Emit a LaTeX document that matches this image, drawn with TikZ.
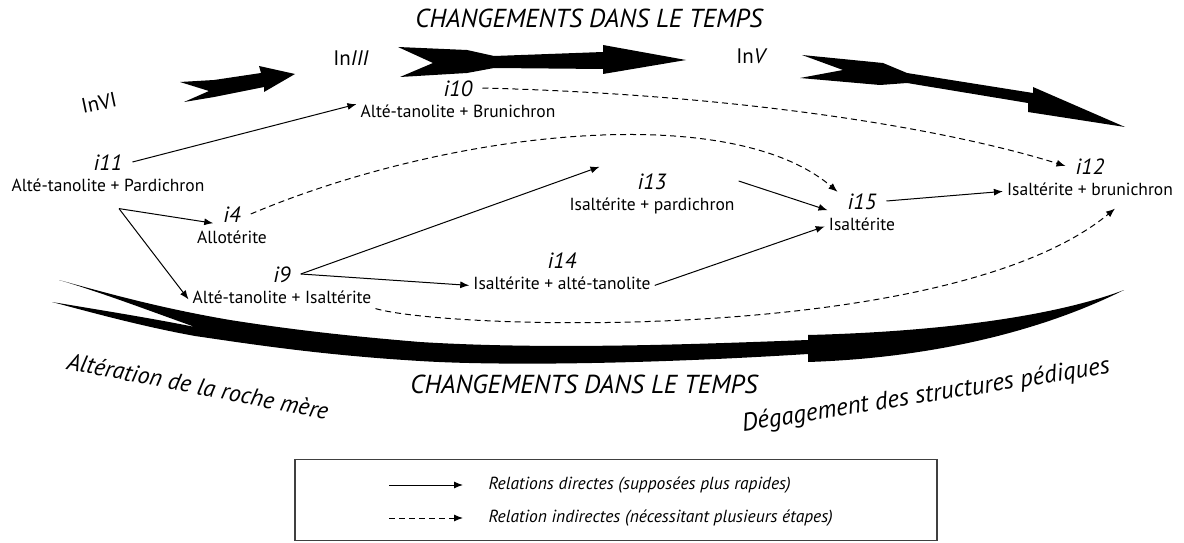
\documentclass[tikz,border=0pt]{standalone}
\usepackage{fontspec}
\setmainfont{PT Sans}
\usetikzlibrary{
  arrows.meta,
  positioning,
  calc
}

\begin{document}
\begin{tikzpicture}[
  x=1pt, y=-1pt,
  idlab/.style={font=\fontsize{22}{24}\selectfont\itshape, inner xsep=10pt,
    inner ysep=1pt, text height=16pt, text depth=0pt},
  desc/.style={font=\fontsize{17.5}{19}\selectfont, inner xsep=4pt,
    inner ysep=1pt, text height=12pt, text depth=4pt},
  phase/.style={font=\fontsize{21}{24}\selectfont},
  titre/.style={font=\fontsize{26}{30}\selectfont\itshape},
  legtext/.style={font=\fontsize{17.5}{19}\selectfont\itshape, anchor=west},
  band/.style={fill=black},
  link/.style={-{Latex[length=9pt, width=7pt]}, line width=1pt},
  indirect/.style={link, dash pattern=on 6pt off 4pt}
]
  \useasboundingbox (0,0) rectangle (1184,543);

  % time axis, top
  \node[titre] (ttop) at (589,18) {CHANGEMENTS DANS LE TEMPS};
  \node[phase, rotate=12] (invi) at (99,103) {InVI};
  \node[phase] (iniii) at (351,58) {In\textit{III}};
  \node[phase] (inv) at (752,56) {In\textit{V}};

  \fill[band] (180,82) -- (214,80) -- (261,73) -- (259,66) -- (295,74)
    -- (264,92) -- (264,87) -- (214,97) -- (184,102) -- (209,91) -- cycle;
  \fill[band] (398,47) -- (467,50) -- (494,56) -- (603,52) -- (603,45)
    -- (686,60) -- (603,74) -- (603,69) -- (494,68) -- (467,73) -- (400,77)
    -- (433,63) -- cycle;
  \fill[band] (802,55) -- (883,63) -- (907,73) -- (1033,93) -- (1033,87)
    -- (1125,127) -- (1028,112) -- (1028,103) -- (907,83) -- (880,85)
    -- (800,78) -- (843,70) -- cycle;

  % time axis, bottom
  \fill[band] (195,327) .. controls (150,311) and (100,292) .. (59,280)
    .. controls (110,294) and (160,308) .. (230,320)
    .. controls (300,331) and (360,337) .. (420,342)
    .. controls (550,350) and (700,344) .. (808,340)
    -- (808,335)
    .. controls (930,332) and (1050,318) .. (1124,290)
    .. controls (1040,332) and (930,358) .. (808,362)
    -- (808,354)
    .. controls (650,364) and (500,366) .. (420,361)
    .. controls (320,355) and (250,344) .. (195,336)
    .. controls (140,326) and (90,312) .. (52,302)
    .. controls (100,310) and (150,318) .. (195,327) -- cycle;
  \node[titre] (tbot) at (584,384) {CHANGEMENTS DANS LE TEMPS};
  \node[titre, font=\fontsize{24}{28}\selectfont\itshape, rotate=-11] (roche)
    at (198,386) {Altération de la roche mère};
  \node[titre, font=\fontsize{25}{28}\selectfont\itshape, rotate=9] (pedo)
    at (926,396) {Dégagement des structures pédiques};

  % horizons
  \node[idlab] (i11) at (108,162) {i11};
  \node[desc, below=7pt of i11] (i11d) {Alté-tanolite + Pardichron};
  \node[idlab] (i10) at (458,88) {i10};
  \node[desc, below=7pt of i10] (i10d) {Alté-tanolite + Brunichron};
  \node[idlab] (i4) at (232,214) {i4};
  \node[desc, below=7pt of i4] (i4d) {Allotérite};
  \node[idlab] (i9) at (282,274) {i9};
  \node[desc, below=7pt of i9] (i9d) {Alté-tanolite + Isaltérite};
  \node[idlab] (i13) at (652,181) {i13};
  \node[desc, below=7pt of i13] (i13d) {Isaltérite + pardichron};
  \node[idlab] (i14) at (562,260) {i14};
  \node[desc, below=7pt of i14] (i14d) {Isaltérite + alté-tanolite};
  \node[idlab] (i15) at (862,201) {i15};
  \node[desc, below=7pt of i15] (i15d) {Isaltérite};
  \node[idlab] (i12) at (1090,166) {i12};
  \node[desc, below=7pt of i12] (i12d) {Isaltérite + brunichron};

  \coordinate[below right=12pt and 11pt of i11d.south] (fork);

  % direct relations
  \draw[link] (i11.east) -- (i10d.north west);
  \draw[link] (fork) -- (i4.south west);
  \draw[link] (fork) -- (i9d.west);
  \draw[link] (i9.east) -- ([xshift=-28pt, yshift=5pt]i13.north west);
  \draw[link] (i9.east) -- (i14d.west);
  \draw[link] (i13.east -| i13d.east) -- ([xshift=-10pt]i15.south west);
  \draw[link] (i14d.east) -- (i15d.west);
  \draw[link] (i15.east) -- (i12d.west);

  % indirect relations
  \draw[indirect] (i10.east) .. controls (750,95) and (950,130) .. (i12.west);
  \draw[indirect] (i4.east) .. controls (450,130) and (730,100) .. (i15.north west);
  \draw[indirect] (i9d.south east) .. controls (450,330) and (950,345)
    .. ([xshift=25pt, yshift=-8pt]i12d.south);

  % legend
  \node[draw=black!75, line width=1.2pt, minimum width=642pt,
    minimum height=81pt, inner sep=0pt] (legende) at (616,500) {};
  \node[legtext] (leg1) at (485,485) {Relations directes (supposées plus rapides)};
  \node[legtext] (leg2) at (485,518) {Relation indirectes (nécessitant plusieurs étapes)};
  \coordinate (l1) at (389,485);
  \coordinate (l2) at (389,518);
  \draw[link] (l1) -- (leg1.west) [shorten >=22pt];
  \draw[indirect] (l2) -- (leg2.west) [shorten >=22pt];

\end{tikzpicture}
\end{document}
